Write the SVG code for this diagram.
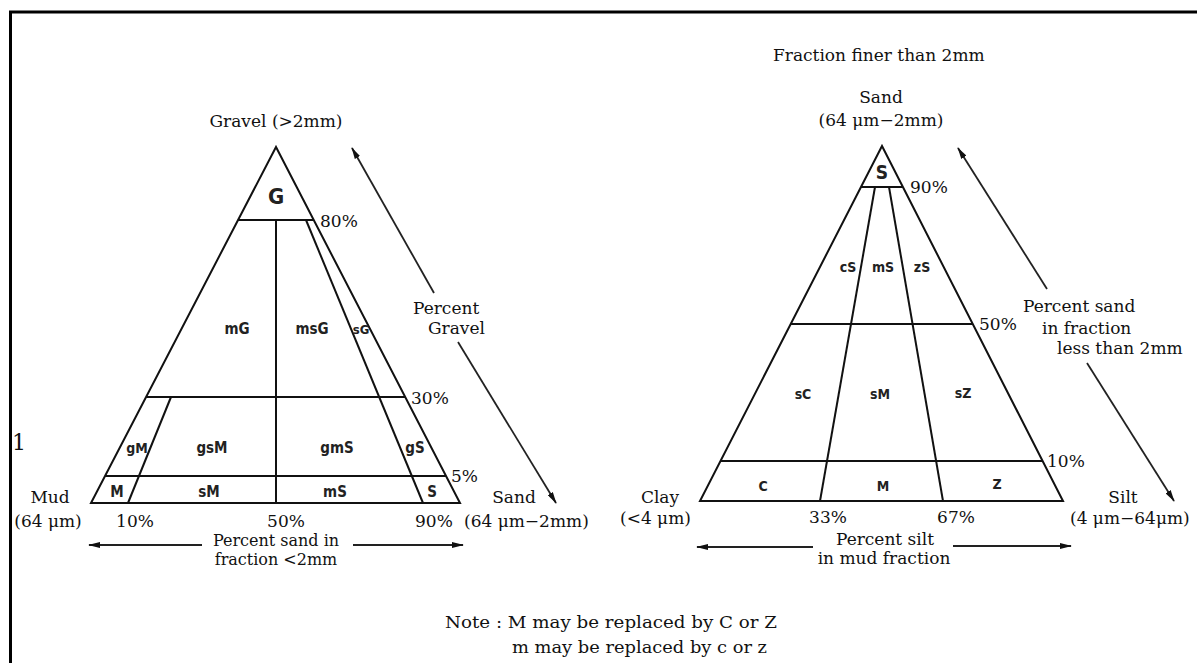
<svg xmlns="http://www.w3.org/2000/svg" width="1197" height="663" viewBox="0 0 1197 663">
<defs>
<marker id="ah" viewBox="0 0 12 6" refX="11" refY="3" markerWidth="12" markerHeight="6" markerUnits="userSpaceOnUse" orient="auto">
<path d="M0,0 L12,3 L0,6 Z" fill="#111"/>
</marker>
<style>
.ln{stroke:#111;stroke-width:2;fill:none}
.ar{stroke:#222;stroke-width:1.8;fill:none;marker-end:url(#ah)}
.sr{font-family:"DejaVu Serif","Liberation Serif",serif;font-size:17px;fill:#111}
.sn{font-family:"DejaVu Sans Condensed","Liberation Sans Narrow","Liberation Sans",sans-serif;font-stretch:condensed;font-weight:bold;font-size:15px;fill:#222;text-anchor:middle}
.m{text-anchor:middle}
</style>
</defs>
<rect x="0" y="0" width="1197" height="663" fill="#fff"/>
<path d="M10.5,680 V12 H1200" stroke="#000" stroke-width="3" fill="none"/>
<text class="sr" x="12" y="450" style="font-size:22px">1</text>

<g id="left-triangle">
<polygon class="ln" points="276,147 91,503 460,503"/>
<line class="ln" x1="238" y1="220" x2="314" y2="220"/>
<line class="ln" x1="146" y1="397" x2="405" y2="397"/>
<line class="ln" x1="105" y1="476" x2="446" y2="476"/>
<line class="ln" x1="276" y1="220" x2="276" y2="503"/>
<line class="ln" x1="171" y1="397" x2="128" y2="503"/>
<line class="ln" x1="306" y1="220" x2="423" y2="503"/>
<text class="sn" x="276" y="204" style="font-size:22px">G</text>
<text class="sn" x="237" y="334">mG</text>
<text class="sn" x="312" y="334">msG</text>
<text class="sn" x="361" y="334" style="font-size:13px">sG</text>
<text class="sn" x="137" y="453" style="font-size:14px">gM</text>
<text class="sn" x="212" y="453">gsM</text>
<text class="sn" x="337" y="453">gmS</text>
<text class="sn" x="415" y="453">gS</text>
<text class="sn" x="117" y="497">M</text>
<text class="sn" x="209" y="497">sM</text>
<text class="sn" x="335" y="497">mS</text>
<text class="sn" x="432" y="497">S</text>
</g>

<g id="left-labels">
<text class="sr m" x="276" y="127">Gravel (&gt;2mm)</text>
<text class="sr" x="320" y="227">80%</text>
<text class="sr" x="411" y="404">30%</text>
<text class="sr" x="451" y="482">5%</text>
<text class="sr" x="413" y="314">Percent</text>
<text class="sr" x="428" y="334">Gravel</text>
<text class="sr m" x="50" y="503">Mud</text>
<text class="sr m" x="48" y="527">(64 μm)</text>
<text class="sr m" x="135" y="527">10%</text>
<text class="sr m" x="286" y="527">50%</text>
<text class="sr" x="415" y="527">90%</text>
<text class="sr m" x="514" y="503">Sand</text>
<text class="sr" x="464" y="527">(64 μm−2mm)</text>
<text class="sr m" x="276" y="546" style="font-size:16px">Percent sand in</text>
<text class="sr m" x="276" y="565" style="font-size:16px">fraction &lt;2mm</text>
</g>

<g id="right-triangle">
<polygon class="ln" points="882,146 700,501 1063,501"/>
<line class="ln" x1="861" y1="187" x2="903" y2="187"/>
<line class="ln" x1="791" y1="324" x2="973" y2="324"/>
<line class="ln" x1="720" y1="461" x2="1043" y2="461"/>
<line class="ln" x1="875" y1="187" x2="820" y2="501"/>
<line class="ln" x1="889" y1="187" x2="943" y2="501"/>
<text class="sn" x="882" y="179" style="font-size:19px">S</text>
<text class="sn" x="848" y="272" style="font-size:14px">cS</text>
<text class="sn" x="883" y="272" style="font-size:14px">mS</text>
<text class="sn" x="922" y="272" style="font-size:14px">zS</text>
<text class="sn" x="803" y="399" style="font-size:14px">sC</text>
<text class="sn" x="880" y="399" style="font-size:14px">sM</text>
<text class="sn" x="963" y="398" style="font-size:14px">sZ</text>
<text class="sn" x="763" y="491" style="font-size:14px">C</text>
<text class="sn" x="883" y="491" style="font-size:14px">M</text>
<text class="sn" x="997" y="489" style="font-size:14px">Z</text>
</g>

<g id="right-labels">
<text class="sr" x="773" y="61">Fraction finer than 2mm</text>
<text class="sr m" x="881" y="103">Sand</text>
<text class="sr m" x="881" y="126">(64 μm−2mm)</text>
<text class="sr" x="910" y="193">90%</text>
<text class="sr" x="979" y="330">50%</text>
<text class="sr" x="1047" y="467">10%</text>
<text class="sr" x="1023" y="312">Percent sand</text>
<text class="sr" x="1042" y="334">in fraction</text>
<text class="sr" x="1057" y="354">less than 2mm</text>
<text class="sr m" x="660" y="503">Clay</text>
<text class="sr" x="620" y="524">(&lt;4 μm)</text>
<text class="sr m" x="828" y="523">33%</text>
<text class="sr m" x="956" y="523">67%</text>
<text class="sr m" x="1123" y="503">Silt</text>
<text class="sr" x="1070" y="524">(4 μm−64μm)</text>
<text class="sr m" x="885" y="545">Percent silt</text>
<text class="sr m" x="884" y="564">in mud fraction</text>
</g>

<g id="connectors">
<line class="ar" x1="434" y1="293" x2="352" y2="148"/>
<line class="ar" x1="458" y1="342" x2="556" y2="503"/>
<line class="ar" x1="202" y1="545" x2="89" y2="545"/>
<line class="ar" x1="353" y1="545" x2="463" y2="545"/>
<line class="ar" x1="1047" y1="289" x2="958" y2="148"/>
<line class="ar" x1="1087" y1="363" x2="1174" y2="501"/>
<line class="ar" x1="813" y1="547" x2="697" y2="547"/>
<line class="ar" x1="953" y1="546" x2="1071" y2="546"/>
</g>

<g id="note">
<text class="sr" x="445" y="628" textLength="332" lengthAdjust="spacingAndGlyphs">Note : M may be replaced by C or Z</text>
<text class="sr" x="512" y="653" textLength="255" lengthAdjust="spacingAndGlyphs">m may be replaced by c or z</text>
</g>
</svg>
